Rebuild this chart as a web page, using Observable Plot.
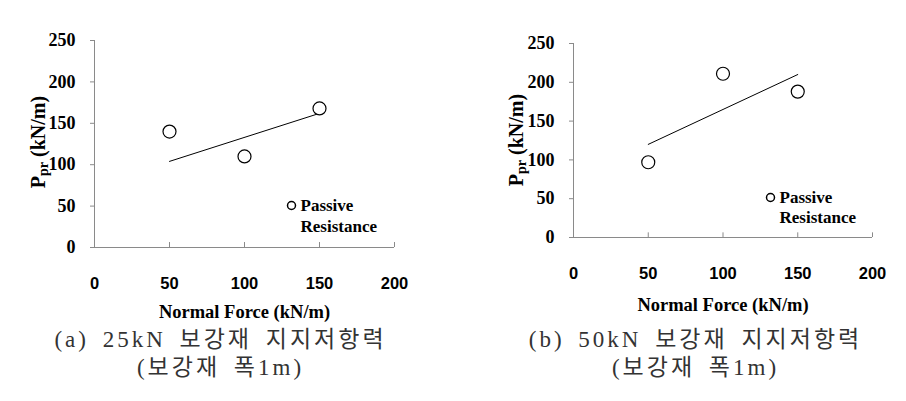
<!DOCTYPE html>
<html>
<head>
<meta charset="utf-8">
<script src="https://cdn.jsdelivr.net/npm/d3@7"></script>
<script src="https://cdn.jsdelivr.net/npm/@observablehq/plot@0.6"></script>
<style>
  html, body { margin: 0; padding: 0; background: #fff; }
  #wrap { position: relative; width: 906px; height: 401px; overflow: hidden; }
  .panel { position: absolute; top: 0; }
  .caption { position: absolute; width: 453px; text-align: center; color: #333;
    font-family: "Liberation Serif", "Noto Sans CJK KR", serif; font-size: 23px;
    line-height: 28px; letter-spacing: 3px; word-spacing: 5px; white-space: pre; }
</style>
</head>
<body>
<div id="wrap"></div>
<script>
// ---- data ----
const xTicks = [0, 50, 100, 150, 200];
const yTicks = [0, 50, 100, 150, 200, 250];
const normalForce = [50, 100, 150];
const resistanceA = [140, 110, 168];   // (a) 25kN
const resistanceB = [97, 211, 188];    // (b) 50kN
const trendX = [50, 150];
const trendA = [104, 162];
const trendB = [120, 210];
const xTitle = "Normal Force (kN/m)";
const legendLines = ["Passive", "Resistance"];
const captionsA = ["(a) 25kN 보강재 지지저항력", "(보강재 폭1m)"];
const captionsB = ["(b) 50kN 보강재 지지저항력", "(보강재 폭1m)"];

const serif = "'Liberation Serif', 'Times New Roman', serif";
const sans = "'Liberation Sans', Arial, sans-serif";

function makeChart(cfg) {
  const pts = normalForce.map((x, i) => ({x, y: cfg.values[i]}));
  const trend = trendX.map((x, i) => ({x, y: cfg.trend[i]}));
  const chart = Plot.plot({
    width: 453,
    height: 330,
    marginLeft: cfg.ml, marginRight: cfg.mr, marginTop: cfg.mt, marginBottom: cfg.mb,
    x: {domain: [0, 200]},
    y: {domain: [0, 250]},
    marks: [
      Plot.ruleY([0], {stroke: "#8a8a8a"}),
      Plot.ruleX([0], {stroke: "#8a8a8a"}),
      Plot.ruleX(xTicks.slice(1), {x: d => d, y1: 0, y2: cfg.tickLen, stroke: "#8a8a8a"}),
      Plot.axisY({ticks: yTicks, tickSize: 4, tickPadding: 15, stroke: "#8a8a8a", fill: "black",
        fontFamily: serif, fontSize: 18, fontWeight: "bold", label: null}),
      Plot.axisX({ticks: xTicks, tickSize: 0, tickPadding: cfg.xPad, fill: "black",
        fontFamily: sans, fontSize: 16.5, fontWeight: "bold", label: null}),
      Plot.line(trend, {x: "x", y: "y", stroke: "black", strokeWidth: 1}),
      Plot.dot(pts, {x: "x", y: "y", r: 6.5, stroke: "black", strokeWidth: 1.2, fill: "white"}),
      Plot.dot([0], {frameAnchor: "top-left", dx: cfg.lgx, dy: cfg.lgy, r: 4, stroke: "black", fill: "white"}),
      Plot.text([legendLines[0]], {frameAnchor: "top-left", dx: cfg.lgx + 9, dy: cfg.lgy, text: d => d,
        textAnchor: "start", lineAnchor: "middle", fontFamily: serif, fontSize: 17, fontWeight: "bold", fill: "black"}),
      Plot.text([legendLines[1]], {frameAnchor: "top-left", dx: cfg.lgx + 9, dy: cfg.lgy + cfg.lgGap, text: d => d,
        textAnchor: "start", lineAnchor: "middle", fontFamily: serif, fontSize: 17, fontWeight: "bold", fill: "black"}),
      Plot.text([xTitle], {frameAnchor: "bottom", dy: cfg.titleDy, text: d => d, lineAnchor: "middle",
        fontFamily: serif, fontSize: 18.5, fontWeight: "bold", fill: "black"})
    ]
  });
  // y-axis title with subscript
  const svg = d3.select(chart);
  const t = svg.append("text")
    .attr("transform", `translate(${cfg.ytx},${cfg.yty}) rotate(-90)`)
    .attr("text-anchor", "middle")
    .attr("dominant-baseline", "middle")
    .attr("font-family", serif).attr("font-weight", "bold").attr("font-size", 20)
    .attr("fill", "black");
  t.append("tspan").text("P");
  t.append("tspan").attr("font-size", 14).attr("dy", 5).text("pr");
  t.append("tspan").attr("dy", -5).text(" (kN/m)");
  chart.classList.add("panel");
  chart.style.left = cfg.left + "px";
  return chart;
}

const wrap = document.getElementById("wrap");
wrap.appendChild(makeChart({values: resistanceA, trend: trendA, left: 0,
  ml: 94, mr: 59, mt: 40, mb: 83, tickLen: 6, xPad: 30,
  lgx: 197, lgy: 165, lgGap: 21, titleDy: 65, ytx: 40, yty: 142}));
wrap.appendChild(makeChart({values: resistanceB, trend: trendB, left: 453,
  ml: 120, mr: 34, mt: 43, mb: 93, tickLen: 6, xPad: 30,
  lgx: 197, lgy: 154, lgGap: 20, titleDy: 68, ytx: 65, yty: 140}));

function caption(lines, left) {
  const d = document.createElement("div");
  d.className = "caption";
  d.style.left = left + "px";
  d.style.top = "326px";
  d.textContent = lines.join("\n");
  wrap.appendChild(d);
}
caption(captionsA, -6);
caption(captionsB, 469);
</script>
</body>
</html>
